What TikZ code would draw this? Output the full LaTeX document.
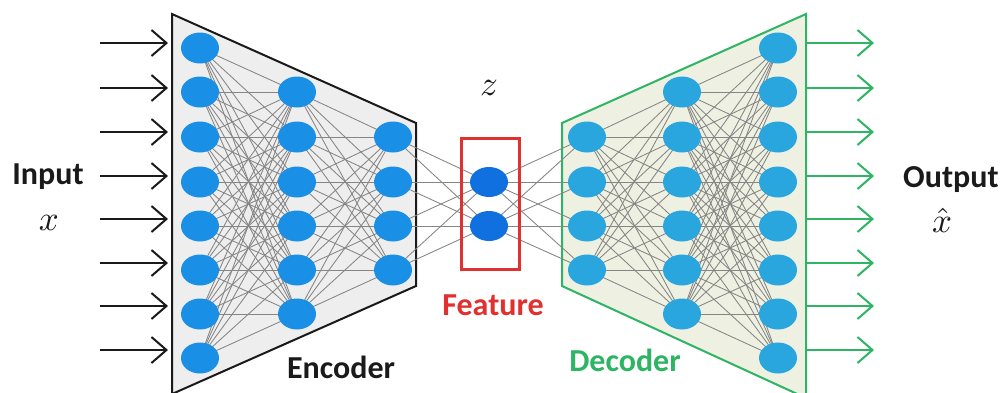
\documentclass[tikz,border=0pt]{standalone}
\usepackage{fontspec}
\setmainfont{Carlito}
\usetikzlibrary{arrows.meta,shapes.geometric}
\pgfdeclarelayer{back}
\pgfdeclarelayer{mid}
\pgfsetlayers{back,mid,main}
\definecolor{encblue}{HTML}{1A8FE6}
\definecolor{decblue}{HTML}{2AA6DE}
\definecolor{featblue}{HTML}{1070E0}
\definecolor{encfill}{HTML}{EEEEEE}
\definecolor{decfill}{HTML}{EEF0E2}
\definecolor{decgreen}{HTML}{2DB563}
\definecolor{featred}{HTML}{E0302F}
\definecolor{edgegray}{HTML}{858585}
\definecolor{txtblack}{HTML}{1A1A1A}
\tikzset{
  neuron/.style={ellipse,minimum width=38,minimum height=31,inner sep=0pt,draw=none},
  enc/.style={neuron,fill=encblue},
  dec/.style={neuron,fill=decblue},
  feat/.style={neuron,fill=featblue,minimum height=30},
  edge/.style={draw=edgegray,line width=0.85pt},
  inarrow/.style={draw=txtblack,line width=2pt,-{Straight Barb[length=15pt,width=26pt,line width=2pt]}},
  outarrow/.style={draw=decgreen,line width=2pt,-{Straight Barb[length=15pt,width=26pt,line width=2pt]}},
  lbl/.style={font=\fontsize{32}{32}\selectfont\bfseries,inner sep=0pt},
  mathlbl/.style={inner sep=0pt,text=txtblack}
}
\newcommand{\biglbl}[1]{\scalebox{3.5}{$#1$}}
\begin{document}
\begin{tikzpicture}[x=1pt,y=-1pt]
\useasboundingbox (0,0) rectangle (1000,392);
% trapezoids
\begin{pgfonlayer}{back}
\fill[white] (0,0) rectangle (1000,392);
\draw[fill=encfill,draw=txtblack,line width=2pt,line join=miter]
  (172,14) -- (416,123) -- (416,286) -- (172,394) -- cycle;
\draw[fill=decfill,draw=decgreen,line width=2pt,line join=miter]
  (562,123) -- (806,14) -- (806,398) -- (562,286) -- cycle;
\end{pgfonlayer}
% row positions
\def\ry#1{\ifcase#1\or48\or92\or137\or182\or226\or270\or314\or358\fi}
% encoder
\foreach \i in {1,...,8} \node[enc] (e1-\i) at (200,{\ry{\i}}) {};
\foreach \i in {2,...,7} \node[enc] (e2-\i) at (297,{\ry{\i}}) {};
\foreach \i in {3,...,6} \node[enc] (e3-\i) at (393,{\ry{\i}}) {};
% feature
\node[draw=featred,line width=3pt,minimum width=58,minimum height=131,inner sep=0pt] (fbox) at (490,203.5) {};
\foreach \i in {4,5} \node[feat] (f-\i) at (489,{\ry{\i}}) {};
% decoder
\foreach \i in {3,...,6} \node[dec] (d1-\i) at (587,{\ry{\i}}) {};
\foreach \i in {2,...,7} \node[dec] (d2-\i) at (682,{\ry{\i}}) {};
\foreach \i in {1,...,8} \node[dec] (d3-\i) at (778,{\ry{\i}}) {};
% edges
\begin{pgfonlayer}{mid}
\foreach \i in {1,...,8} \foreach \j in {2,...,7} \draw[edge] (e1-\i.center) -- (e2-\j.center);
\foreach \i in {2,...,7} \foreach \j in {3,...,6} \draw[edge] (e2-\i.center) -- (e3-\j.center);
\foreach \i in {3,...,6} \foreach \j in {4,5} \draw[edge] (e3-\i.center) -- (f-\j.center);
\foreach \i in {4,5} \foreach \j in {3,...,6} \draw[edge] (f-\i.center) -- (d1-\j.center);
\foreach \i in {3,...,6} \foreach \j in {2,...,7} \draw[edge] (d1-\i.center) -- (d2-\j.center);
\foreach \i in {2,...,7} \foreach \j in {1,...,8} \draw[edge] (d2-\i.center) -- (d3-\j.center);
\end{pgfonlayer}
% arrows
\foreach \k/\y in {1/43,2/88,3/132,4/176,5/219,6/263,7/306,8/350}{
  \coordinate (ia-\k) at (100,\y);
  \coordinate (ib-\k) at (168,\y);
  \draw[inarrow] (ia-\k) -- (ib-\k);
  \coordinate (oa-\k) at (807,\y);
  \coordinate (ob-\k) at (874,\y);
  \draw[outarrow] (oa-\k) -- (ob-\k);
}
% labels
\node[lbl,text=txtblack] (input) at (48,177) {Input};
\node[mathlbl] (xin) at (49,223) {\biglbl{x}};
\node[lbl,text=txtblack,anchor=west] (output) at (903,180) {Output};
\node[mathlbl,anchor=base] (xout) at (942,232) {\biglbl{\hat{x}}};
\node[mathlbl] (zlbl) at (489,88) {\biglbl{z}};
\node[lbl,text=featred] (feature) at (493,305) {Feature};
\node[lbl,text=txtblack] (encoder) at (341,367) {Encoder};
\node[lbl,text=decgreen] (decoder) at (625,360) {Decoder};
\end{tikzpicture}
\end{document}
